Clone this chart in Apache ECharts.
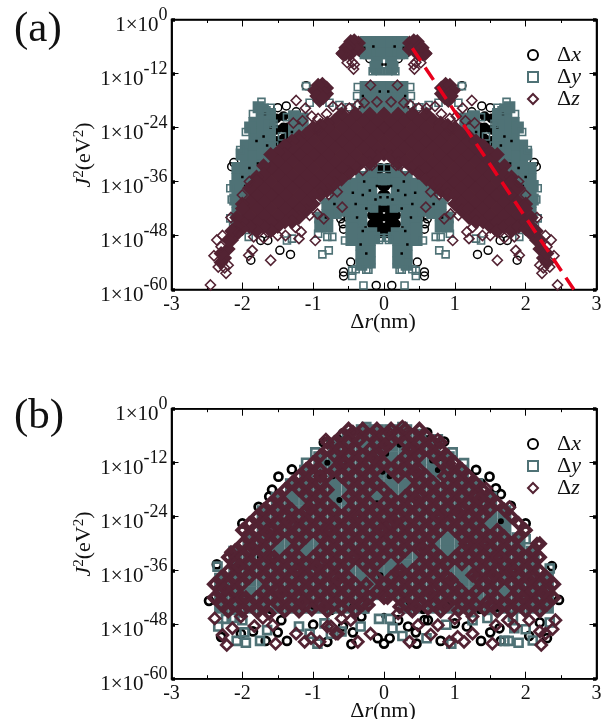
<!DOCTYPE html>
<html><head><meta charset="utf-8">
<style>html,body{margin:0;padding:0;background:#fff}#c{width:608px;height:719px}</style>
<script src="https://cdn.jsdelivr.net/npm/echarts@6/dist/echarts.min.js"></script>
</head><body><div id="c"></div>
<script>
// Every list holds values: x = Δr in nm, y = log10 of J² in eV².
const xTicks = [-3, 3];
const yTicks = [-60, 0];
const fitLine = [[0.4, -6.4], [2.68, -60]];

// ---- panel (a): right half as read, the panel is mirror-symmetric about Δr = 0
const aBlackCore = [[1.42,[-21.5,-24,-26.5,-28.5]],[1.52,[-22,-24.5,-27]],[1.36,[-24,-26]],
  [0.05,[-42,-44,-46,-47.5,-33,-35]],[0.13,[-42.5,-44.5,-46.5,-33.5]],[0.02,[-37,-39]],[0.17,[-43.5,-45.5]]];
const aBlackOpen = [[1.32,-52.2],[1.47,-51.3],[1.64,-49.1],[1.74,-49.1],[1.88,-53.5],[0.61,-44.3],[0.57,-46.6],
  [0.19,-54.3],[0.47,-53.9],[0.11,-59.1],[0.57,-56.1],[0.57,-57],[2.15,-32.7],[2.12,-31.8],[1.38,-19.2],[1.5,-19.6],
  [1.24,-20.5],[1.1,-14.7],[0.2,-8.7],[0.3,-7.6],[0.33,-6.5],[0.58,-45.4],[0.6,-43.4]];
const aTealCore = [[2.07,[-33,-35.5,-38,-40.5,-43,-45]],[1.95,[-28,-30.5,-33,-35.5,-38,-40.5,-43,-45.5]],
  [1.83,[-23,-25.5,-28,-30.5,-33,-35.5,-38,-40.5]],[1.71,[-20,-22.5,-25,-27.5,-30,-32.5,-35]],[1.61,[-21,-23.5,-26,-28.5,-31]],
  [1.27,[-21.5,-24,-26]],[1.15,[-22,-24]],[1.77,[-19.5]],[1.89,[-24]],[2.01,[-30]],[2.1,[-37,-40]],
  [0.04,[-35.5,-40]],[0.18,[-34,-36.5,-39,-41.5,-47.5]],[0.32,[-35,-37.5,-40,-42.5,-45,-47.5,-50,-52.5,-54.5]],
  [0.46,[-36.5,-39,-41.5,-44,-46.5,-49]],[0.56,[-37.5,-40,-42.5]],[0.2,[-49,-51.5,-54]],[0.14,[-48.5]],
  [0.68,[-38,-40.5,-43]],[0.8,[-41,-43.5,-46]],[0.9,[-44,-46]],
  [0.07,[-5,-7.5,-15,-17.5,-19.5]],[0.21,[-5,-7.5,-15,-17.5,-19.5]],[0.26,[-5,-7.5,-15,-17.5,-19.5]],
  [0.1,[-9.5,-10.8]],[0.12,[-10.5]]];
const aSpecks = [[0.1,-37],[0.2,-38],[0.3,-39],[0.05,-39.5],[0.25,-42],[0.4,-41],[0.26,-46],[0.3,-47],[0.38,-44],[0.28,-36],[0.44,-38.5],[0.12,-40],
  [0.33,-50],[0.25,-52],[0.7,-41],[0.82,-44],[1.6,-24],[1.65,-28],[1.7,-26],[1.9,-33],[1.8,-27],[2,-35],[2.02,-42],[1.88,-39],[1.78,-32],[1.96,-37],
  [1.68,-21],[0.15,-6],[0.02,-10],[0.28,-6.3],[0.3,-17],[0.34,-19.5],[0.06,-16],[1.2,-23],[1.3,-25],[1.62,-30]];
const aTealOpen = [[0.29,-59.1],[0.45,-55.8],[0.45,-57],[0.55,-49.1],[0.73,-48.3],[0.8,-48.3],[0.93,-47.6],[0.78,-51.3],
  [0.87,-52.2],[1.37,-49.1],[1.3,-48.7],[1.91,-48.3],[2.17,-44.2],[2.17,-37.5],[2.13,-46],[2.15,-40],[1.73,-18.3],[1.6,-19.6],
  [1.66,-20.2],[1.1,-14.8],[0.37,-15],[0.38,-17],[0.36,-19],[0.06,-11.5],[0.16,-11.5],[1.37,-21.7],[1.56,-23.2],[1.55,-28],
  [1.44,-26],[1.42,-30],[1.85,-21],[1.95,-25],[2.03,-29],[0.14,-42],[0.3,-45],[0.05,-33],[0.7,-36.5],[0.92,-40],
  [1.05,-18.5],[0.77,-18.5],[0.63,-19],[0.5,-19.5],[0.04,-48.5],[0.07,-49],[0.22,-55.6],[0.4,-55.5],[0.25,-55.6]];
const aMaroonCore = [[0,[-21,-24,-27,-30]],[0.1,[-22.5,-25.5,-28.5,-30.5]],[0.2,[-21,-24,-27,-30,-32]],[0.3,[-22.5,-25.5,-28.5,-31.5]],
  [0.4,[-21,-24,-27,-30,-33]],[0.5,[-22.5,-25.5,-28.5,-31.5,-34]],[0.6,[-21,-24,-27,-30,-33,-35.5]],[0.7,[-22.5,-25.5,-28.5,-31.5,-34.5,-36.5]],
  [0.8,[-23,-24,-27,-30,-33,-36,-38]],[0.9,[-23.5,-25.5,-28.5,-31.5,-34.5,-37.5,-39]],[1,[-24,-27,-30,-33,-36,-39,-41]],
  [1.1,[-25.5,-28.5,-31.5,-34.5,-37.5,-40.5,-42.5]],[1.2,[-26,-27,-30,-33,-36,-39,-42,-44]],[1.3,[-27,-28.5,-31.5,-34.5,-37.5,-40.5,-43.5,-45]],
  [1.4,[-28,-30,-33,-36,-39,-42,-45]],[1.5,[-29.5,-31.5,-34.5,-37.5,-40.5,-43.5,-46]],[1.6,[-30,-33,-36,-39,-42,-45,-47]],
  [1.7,[-32.5,-34.5,-37.5,-40.5,-43.5,-46]],[1.8,[-35,-36,-39,-42,-45,-47]],[1.9,[-37.5,-40.5,-43.5,-46]],[2,[-41,-42,-45,-46.5]],
  [2.08,[-44,-46,-47.5]],[2.15,[-49,-47]],[2.2,[-51,-49]],[2.25,[-53]],[2.3,[-54,-52]],
  [0.36,[-5.2,-6.6]],[0.42,[-4.7,-6.2]],[0.47,[-4.9,-7.6]],[0.5,[-6]],[0.54,[-6.3,-7.6]],[0.58,[-7.6]],
  [0.81,[-15.2,-16.5]],[0.87,[-14.4,-16]],[0.93,[-14.6]],[0.98,[-15.8]],[0.91,[-16.6,-18]],[0.95,[-17]],[0.86,[-17.4]]];
const aMaroonOpen = [[0.6,-7.5],[0.52,-9.6],[0.43,-11],[0.45,-9.5],[0.42,-10],[0.19,-14.6],[0.1,-18.3],[0.37,-19],[0.49,-19.7],[0.6,-19.7],
  [0.72,-19.3],[0.81,-21],[0.93,-22],[1.11,-19.7],[1.24,-18],[0.93,-24.5],[0.28,-18.5],[1.02,-21.5],[1.15,-22.5],[1.28,-23],
  [0.48,-34.3],[0.66,-38.3],[0.78,-38.9],[0.59,-41.7],[0.94,-43.2],[0.85,-44.3],[0.97,-49.1],[1.17,-47.2],[1.2,-48.7],[1.6,-53.5],
  [1.39,-48],[1.84,-48.3],[1.86,-51.3],[1.91,-52.4],[0.17,-32.4],[0.3,-33.5],[1.05,-43.5],[1.25,-46.2],[1.5,-48],[1.7,-48.5],[2.05,-47.5],
  [2.45,-59],[2.23,-56.4],[2.34,-55],[2.36,-49],[2.28,-48],[2.4,-52.5],[2.25,-55.2],[2.2,-54.6],[2.3,-50.5],[2.16,-44],[1.9,-36],[2.0,-39]];

// ---- panel (b)
const bTealCore = [[0.1,[-5,-8,-11,-14,-17,-20,-23,-26,-29,-32,-35,-38,-41]],[0.3,[-5,-8,-11,-14,-17,-20,-23,-26,-29,-32,-35,-38,-41,-44]],
  [0.5,[-6,-8,-11,-14,-17,-20,-23,-26,-29,-32,-35,-38,-41,-44]],[0.7,[-8,-11,-14,-17,-20,-23,-26,-29,-32,-35,-38,-41,-44]],
  [0.9,[-11,-14,-17,-20,-23,-26,-29,-32,-35,-38,-41,-44]],[1.1,[-14,-17,-20,-23,-26,-29,-32,-35,-38,-41,-44]],
  [1.3,[-17,-20,-23,-26,-29,-32,-35,-38,-41,-44]],[1.5,[-20,-23,-26,-29,-32,-35,-38,-41,-44]],[1.7,[-23,-26,-29,-32,-35,-38,-41,-44]],
  [1.9,[-29,-32,-35,-38,-41,-44]],[2.1,[-32,-35,-38,-41,-44]],[2.3,[-38,-41,-44]]];
const bBlackCore = [[0.03,-10],[-0.02,-14],[0.08,-15],[-0.63,-20.3],[0.76,-13.6],[0.68,-11.5],[-0.1,-21],[0.78,-11],[-0.8,-12],[-0.72,-15],
  [0.22,-8],[-0.3,-30],[0.35,-43],[-0.45,-44],[0.9,-43],[-1.0,-44],[1.6,-44.5],[-1.6,-45],[0,-46],[0.55,-45],[1.35,-45],[-0.05,-37],[1.65,-25],[-1.75,-33]];
const bBlackOpen = [[-0.8,-51.8],[-0.46,-52.3],[0,-52.2],[-0.09,-51],[0.08,-51],[0.46,-52.2],[0.8,-51.6],[1.37,-51.6],[1.65,-51.6],[1.5,-49.7],
  [1.63,-48.8],[1.17,-48.4],[1,-47.7],[-0.44,-49.7],[-0.58,-48.4],[0.45,-49.7],[0.34,-48.4],[0.2,-47],[0.62,-47],[0.57,-47],[-0.32,-46.2],[-0.75,-44.7],
  [-2.47,-42.7],[-2.36,-34.6],[-2.3,-50.7],[-1.67,-51.6],[-1.37,-51.6],[-1.5,-49.7],[-1,-48],[-2.02,-50],[-1.45,-47],[2.47,-42.5],[2.3,-51],[2.05,-50.5],[2.2,-47.5],
  [-0.58,-5.5],[0.61,-5.3],[1.49,-15.1],[1.3,-13.6],[1.37,-16.6],[1.58,-17.7],[1.65,-19],[1.79,-21.6],[0.85,-7.3],[-1.3,-13.5],[-1.49,-15.1],[-1.58,-18],[-1.62,-19.5],
  [-1.77,-21.8],[-2,-25.5],[2,-25.5],[-0.85,-7.5],[2.37,-35],[-2.2,-38],[2.25,-38],[-1.85,-49.5]];
const bTealOpen = [[-0.07,-46.7],[0.08,-46.7],[0.12,-48.8],[-0.33,-48.4],[0.26,-50.5],[-0.29,-44.4],[1.02,-44.4],[1.19,-43.9],[0.88,-48],[0.95,-52.2],[1.46,-46.5],[1.82,-46.2],
  [1.76,-51.6],[1.84,-48.8],[-0.84,-47.7],[-2.34,-48.4],[-2.08,-51.6],[-1.95,-52],[-1.75,-51.6],[-2.35,-35.1],[-1.97,-49.7],[-1.2,-48.4],[-2.23,-46.7],[-0.94,-52.2],[-1.65,-49.2],[-1.05,-50],
  [-0.25,-4.1],[0.97,-9.7],[0.26,-4.1],[0.76,-6.8],[1.13,-12.1],[-0.97,-9.7],[-1.1,-12],[2.34,-35.5],[2.1,-51.5],[2.34,-47.5],[2,-49],[-2,-47],[-0.6,-49.5],[1.9,-52],[1.7,-51.6],
  [2.3,-38],[-2.15,-46.5],[1.25,-47],[0.6,-51],[-0.75,-50],[2,-29]];
const bMaroonBulk = [[-2.4,[-39,-42]],[-2.3,[-37.5,-40.5,-43.5]],[-2.2,[-33,-36,-39,-42,-45]],[-2.1,[-31.5,-34.5,-37.5,-40.5,-43.5]],[-2,[-27,-30,-33,-36,-39,-42,-45]],
  [-1.9,[-25.5,-28.5,-31.5,-34.5,-37.5,-43.5]],[-1.8,[-24,-27,-30,-33,-36,-42,-45]],[-1.7,[-22.5,-25.5,-28.5,-31.5,-34.5,-37.5,-40.5,-43.5]],[-1.6,[-21,-24,-27,-30,-33,-36,-39,-42]],
  [-1.5,[-19.5,-22.5,-25.5,-28.5,-34.5,-37.5,-40.5,-43.5]],[-1.4,[-18,-21,-24,-27,-33,-36,-39,-42,-45]],[-1.3,[-16.5,-22.5,-25.5,-28.5,-31.5,-34.5,-37.5,-40.5,-43.5]],
  [-1.2,[-15,-18,-24,-27,-30,-33,-36,-39,-42,-45]],[-1.1,[-13.5,-16.5,-19.5,-22.5,-25.5,-28.5,-34.5,-37.5,-40.5,-43.5]],[-1,[-12,-15,-18,-21,-24,-27,-33,-36,-39,-42]],
  [-0.9,[-10.5,-13.5,-16.5,-19.5,-22.5,-25.5,-28.5,-31.5,-34.5,-37.5,-40.5,-43.5]],[-0.8,[-7.5,-9,-15,-18,-21,-24,-27,-30,-33,-36,-39,-42,-45]],
  [-0.7,[-7.5,-10.5,-13.5,-22.5,-25.5,-28.5,-31.5,-34.5,-37.5,-40.5,-43.5]],[-0.6,[-6,-9,-12,-15,-24,-27,-30,-33,-36,-39,-42]],
  [-0.5,[-4.5,-7.5,-10.5,-13.5,-16.5,-19.5,-22.5,-25.5,-28.5,-31.5,-34.5,-37.5,-40.5,-43.5]],[-0.4,[-6,-9,-12,-15,-18,-21,-24,-27,-30,-33,-39,-42,-45]],
  [-0.3,[-4.5,-10.5,-13.5,-16.5,-19.5,-22.5,-25.5,-28.5,-31.5,-34.5,-40.5,-43.5]],[-0.2,[-6,-9,-12,-15,-18,-21,-24,-27,-30,-33,-36,-42]],
  [-0.1,[-4.5,-7.5,-10.5,-13.5,-16.5,-22.5,-25.5,-28.5,-31.5,-34.5,-37.5,-40.5]],[0,[-6,-9,-12,-18,-21,-24,-27,-30,-33,-39,-42]],
  [0.1,[-4.5,-7.5,-13.5,-19.5,-22.5,-25.5,-28.5,-31.5,-37.5,-40.5]],[0.2,[-6,-12,-15,-21,-24,-27,-30,-33,-36,-39,-42]],
  [0.3,[-4.5,-7.5,-10.5,-13.5,-19.5,-22.5,-25.5,-28.5,-31.5,-37.5,-40.5,-43.5]],[0.4,[-6,-9,-12,-15,-18,-21,-24,-27,-30,-36,-39,-42,-45]],
  [0.5,[-4.5,-7.5,-10.5,-13.5,-16.5,-19.5,-22.5,-25.5,-28.5,-31.5,-34.5,-37.5,-40.5,-43.5]],[0.6,[-6,-9,-15,-18,-21,-24,-27,-30,-33,-36,-39,-42]],
  [0.7,[-7.5,-10.5,-16.5,-19.5,-22.5,-25.5,-28.5,-31.5,-34.5,-37.5,-40.5,-43.5]],[0.8,[-7.5,-9,-12,-18,-21,-24,-27,-33,-36,-39,-42,-45]],
  [0.9,[-10.5,-13.5,-16.5,-19.5,-22.5,-25.5,-34.5,-37.5,-40.5,-43.5]],[1,[-12,-15,-18,-21,-24,-27,-33,-39,-42]],
  [1.1,[-13.5,-16.5,-19.5,-22.5,-25.5,-28.5,-31.5,-34.5,-40.5,-43.5]],[1.2,[-15,-18,-21,-24,-27,-30,-33,-42,-45]],
  [1.3,[-16.5,-19.5,-22.5,-25.5,-28.5,-31.5,-34.5,-37.5,-40.5,-43.5]],[1.4,[-18,-21,-24,-27,-30,-33,-36,-39]],[1.5,[-19.5,-22.5,-28.5,-31.5,-34.5,-37.5,-40.5,-43.5]],
  [1.6,[-21,-27,-30,-33,-36,-39,-42,-45]],[1.7,[-22.5,-28.5,-31.5,-34.5,-37.5,-43.5]],[1.8,[-24,-30,-33,-36,-39,-42,-45]],[1.9,[-25.5,-28.5,-31.5,-34.5,-37.5,-40.5,-43.5]],
  [2,[-27,-33,-36,-39,-42,-45]],[2.1,[-31.5,-34.5,-37.5,-40.5,-43.5]],[2.2,[-30,-33,-36,-39,-42,-45]],[2.3,[-37.5,-40.5,-43.5]],[2.4,[-39,-42]]];
const bMaroonFill = [[-2.05,-35],[-1.85,-31],[-1.65,-27.5],[-1.55,-33],[-1.35,-25],[-1.25,-36],[-1.05,-22],[-0.95,-35],[-0.75,-27],[-0.65,-38],[-0.55,-12],[-0.35,-24],[-0.25,-39],
  [-0.15,-11],[-0.05,-27],[0.05,-42],[0.15,-25],[0.25,-36],[0.35,-9],[0.45,-20],[0.55,-31],[0.65,-41],[0.75,-24],[0.85,-15],[0.95,-38],[1.05,-23],[1.15,-30],[1.25,-37],[1.35,-20],[1.45,-30],
  [1.55,-37],[1.65,-33],[1.85,-36],[2.05,-38],[-1.45,-41],[-1.15,-43],[-0.85,-44],[-0.45,-33],[0.45,-44],[0.85,-44],[1.45,-43],[1.95,-42],[-1.95,-42],[-2.25,-40],[2.25,-41],
  [-0.6,-44.5],[-1.62,-45.5],[0.62,-44.4],[1.42,-44.6],[1.05,-44.8],[-1.02,-44.6],[-0.22,-43.6],[0.22,-44],[0.02,-8],[-0.62,-9],[-0.9,-15],[0.45,-14],[-0.35,-7]];
const bMaroonOpen = [[-0.37,-51.8],[-0.19,-50],[-0.47,-47],[-0.6,-46.6],[-0.68,-50],[-0.8,-48.4],[0.2,-45.5],[0.36,-51.8],[0.48,-48.1],[0.66,-50.2],[0.76,-48.1],[0.92,-51.8],
  [1.13,-51.8],[1.04,-50.7],[1.25,-50],[1,-46.6],[1.25,-46.2],[1.53,-52.2],[1.58,-48.1],[1.84,-48.3],[-2.39,-46.6],[-2.22,-52.5],[-2.28,-50.3],[-2.14,-48.8],[-1.83,-48.3],[-1.53,-52.2],
  [-1.24,-50],[-1.12,-51.8],[-1.03,-51],[-0.91,-51.8],[-1.57,-48.1],[-1.71,-46.5],[-0.75,-48.4],[-0.65,-50],[-2.02,-46.2],[-2.16,-31.9],[2.42,-47],[2.22,-52.5],[2.28,-50],[2.38,-49],[2.05,-47],
  [2.16,-30],[1.75,-47],[2.2,-49.5],[-0.44,-5.1],[-0.82,-6.9],[0.08,-5.5],[0.26,-4],[0.76,-6.9],[0.92,-12.1],[1.18,-14.7],[1.77,-21.9],[1.44,-17.7]];

const expand = cols => cols.flatMap(([x, ys]) => ys.map(y => [x, y]));
const mirror = pts => pts.flatMap(([x, y]) => x === 0 ? [[x, y]] : [[x, y], [-x, y]]);

const font = 'Liberation Serif';
const BLACK = '#000000', TEAL = '#4f7276', MAROON = '#532333', RED = '#e8001c';
const open = (c, w) => ({ color: 'rgba(0,0,0,0)', borderColor: c, borderWidth: w, opacity: 1 });
const solid = c => ({ color: c, opacity: 1 });

const gridTops = [19.5, 408.7];
const grid = gridTops.map(t => ({ left: 171.5, top: t, width: 425, height: 270, show: true, backgroundColor: 'transparent', borderColor: '#000', borderWidth: 1.5 }));

const xAxis = [], yAxis = [];
gridTops.forEach((t, g) => {
  const tick = { show: true, inside: true, length: 7, lineStyle: { color: '#000', width: 1 } };
  const base = { type: 'value', gridIndex: g, min: xTicks[0], max: xTicks[1], interval: 1, splitLine: { show: false },
    axisLine: { onZero: false, lineStyle: { color: '#000', width: 1.5 } }, axisTick: tick,
    minorTick: { show: true, splitNumber: 2, length: 3.5, lineStyle: { color: '#000', width: 1 } } };
  xAxis.push({ ...base, position: 'bottom', axisLabel: { fontFamily: font, fontSize: 20, color: '#111', margin: 5 } });
  xAxis.push({ ...base, position: 'top', axisLabel: { show: false } });
  const yb = { type: 'value', gridIndex: g, min: yTicks[0], max: yTicks[1], interval: 12, splitLine: { show: false },
    axisLine: { onZero: false, lineStyle: { color: '#000', width: 1.5 } } };
  const thin = { show: true, inside: true, length: 7, lineStyle: { color: '#000', width: 1 } };
  const dot = { show: true, inside: true, length: 3.5, lineStyle: { color: '#000', width: 3.5 } };
  yAxis.push({ ...yb, position: 'left', axisTick: thin, axisLabel: { margin: 4, align: 'right', verticalAlign: 'middle',
    formatter: v => `{b|1×10}{s|${v}}`,
    rich: { b: { fontFamily: font, fontSize: 21, color: '#111', padding: [12, 0, 0, 0] }, s: { fontFamily: font, fontSize: 18, color: '#111', padding: [0, 0, 8, 0] } } } });
  yAxis.push({ ...yb, position: 'left', axisTick: dot, axisLabel: { show: false } });
  yAxis.push({ ...yb, position: 'right', axisTick: thin, axisLabel: { show: false } });
  yAxis.push({ ...yb, position: 'right', axisTick: dot, axisLabel: { show: false } });
});

const sc = (g, name, data, symbol, size, style) => ({ type: 'scatter', name, data, symbol, symbolSize: size, xAxisIndex: g * 2, yAxisIndex: g * 4,
  itemStyle: style, silent: true, animation: false, emphasis: { disabled: true }, clip: false });

const series = [
  sc(0, 'black core a', mirror(expand(aBlackCore)), 'circle', 10, solid(BLACK)),
  sc(0, 'Δx (a)', mirror(aBlackOpen), 'circle', 8, open(BLACK, 1.5)),
  sc(0, 'teal core a', mirror(expand(aTealCore)), 'rect', 12, solid(TEAL)),
  sc(0, 'specks a', mirror(aSpecks), 'rect', 2.5, solid(BLACK)),
  sc(0, 'Δy (a)', mirror(aTealOpen), 'rect', 7, open(TEAL, 1.6)),
  sc(0, 'maroon core a', mirror(expand(aMaroonCore)), 'diamond', 15, solid(MAROON)),
  sc(0, 'Δz (a)', mirror(aMaroonOpen), 'diamond', 10, open(MAROON, 1.6)),
  { type: 'line', name: 'fit', data: fitLine, xAxisIndex: 0, yAxisIndex: 0, symbol: 'none', animation: false, silent: true,
    lineStyle: { color: RED, width: 3.5, type: [15, 8] }, z: 5 },
  sc(1, 'Δx (b)', bBlackOpen, 'circle', 8, open(BLACK, 2.7)),
  sc(1, 'teal core b', mirror(expand(bTealCore)), 'rect', 14, solid(TEAL)),
  sc(1, 'black core b', bBlackCore, 'circle', 6, solid(BLACK)),
  sc(1, 'Δy (b)', bTealOpen, 'rect', 8, open(TEAL, 2.6)),
  sc(1, 'maroon bulk b', expand(bMaroonBulk).concat(bMaroonFill), 'diamond', 10, open(MAROON, 4)),
  sc(1, 'Δz (b)', bMaroonOpen, 'diamond', 11, open(MAROON, 2.7))
];

const legendOf = (top, tag) => ({ orient: 'vertical', left: 522, top, itemWidth: 10, itemHeight: 10, itemGap: 0, selectedMode: false,
  data: ['Δx', 'Δy', 'Δz'].map(n => `${n} (${tag})`),
  formatter: n => `{d|Δ}{i|${n[1]}}`,
  textStyle: { rich: { d: { fontFamily: font, fontSize: 22, color: '#111', padding: [0, 0, 0, 14], lineHeight: 22 }, i: { fontFamily: font, fontStyle: 'italic', fontSize: 22, color: '#111', lineHeight: 22 } } } });

const yLabel = (cy) => ({ type: 'text', x: 84, y: cy, rotation: Math.PI / 2, silent: true,
  style: { text: '{i|J}{s|2}{n|(eV}{s|2}{n|)}', align: 'center', verticalAlign: 'middle',
    rich: { i: { fontFamily: font, fontStyle: 'italic', fontSize: 22, fill: '#111' }, n: { fontFamily: font, fontSize: 22, fill: '#111' }, s: { fontFamily: font, fontSize: 15, fill: '#111', padding: [0, 0, 10, 0] } } } });
const xLabel = (cy) => ({ type: 'text', x: 383, y: cy, silent: true,
  style: { text: '{n|Δ}{i|r}{n|(nm)}', align: 'center', verticalAlign: 'middle',
    rich: { i: { fontFamily: font, fontStyle: 'italic', fontSize: 22, fill: '#111' }, n: { fontFamily: font, fontSize: 22, fill: '#111' } } } });
const tag = (t, cy) => ({ type: 'text', x: 14, y: cy, silent: true, style: { text: t, fontFamily: font, fontSize: 43, fill: '#111', verticalAlign: 'middle' } });

const chart = echarts.init(document.getElementById('c'), null, { renderer: 'canvas' });
chart.setOption({ animation: false, backgroundColor: '#fff', grid, xAxis, yAxis, series,
  legend: [legendOf(39, 'a'), legendOf(428, 'b')],
  graphic: [yLabel(155), yLabel(544), xLabel(322), xLabel(711), tag('(a)', 30), tag('(b)', 417)] });
</script></body></html>
